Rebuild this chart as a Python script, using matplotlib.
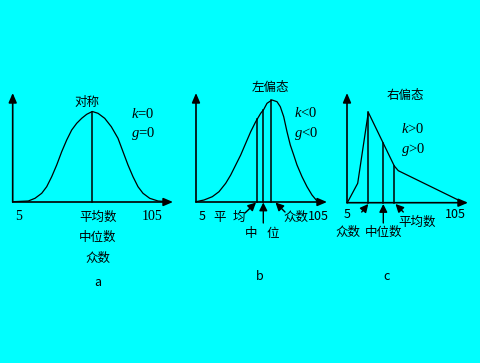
import matplotlib.pyplot as plt
import matplotlib as mpl

plt.rcParams['font.family'] = ['Noto Sans CJK SC', 'DejaVu Sans']
plt.rcParams['mathtext.fontset'] = 'custom'
plt.rcParams['mathtext.it'] = 'Liberation Serif:italic'
plt.rcParams['mathtext.rm'] = 'Liberation Serif'

BG = '#00ffff'

# positions (pixels, y down)
# panel a : symmetric curve
a_origin = (12.7, 202.0)
a_xend, a_ytop = 173, 93
a_curve_x = [12.7, 28.3, 35.0, 41.7, 46.7, 51.7, 56.7, 61.7, 66.7, 71.7, 76.7, 81.7, 86.7, 92.3,
             98.0, 104.7, 111.3, 118.0, 123.0, 128.0, 133.0, 138.0, 143.0, 149.7, 158.0, 168.0]
a_curve_y = [201.7, 201.0, 198.3, 193.3, 186.7, 176.7, 165.0, 151.7, 140.0, 130.0, 123.3, 118.3, 114.3, 111.5,
             113.3, 118.3, 126.7, 138.3, 151.7, 165.0, 176.7, 186.7, 193.3, 198.3, 201.0, 201.7]
a_lines_x = [92.3]
a_lines_top = [111.5]

# panel b : left skewed
b_origin = (196.0, 202.0)
b_xend, b_ytop = 327, 93
b_curve_x = [196.0, 204.0, 212.3, 219.0, 225.7, 230.7, 235.7, 240.7, 245.7, 250.7, 255.7, 260.7,
             263.7, 267.0, 272.0, 277.0, 280.3, 283.7, 287.0, 290.3, 293.7, 297.0, 302.0, 307.0,
             312.0, 317.0, 321.0]
b_curve_y = [201.7, 200.0, 196.7, 191.7, 183.3, 175.0, 165.0, 155.0, 143.3, 131.7, 121.7, 113.3,
             109.5, 103.3, 100.0, 101.7, 106.7, 116.7, 131.7, 145.0, 155.0, 165.0, 176.7, 186.7,
             195.0, 201.0, 202.0]
b_lines_x = [257.5, 263.3, 271.0]
b_lines_top = [118.5, 109.8, 100.2]

# panel c : right skewed (polyline)
c_origin = (347.0, 202.7)
c_xend, c_ytop = 468, 93
c_curve_x = [347.3, 357.7, 368.3, 383.3, 394.3, 398.3, 461.7]
c_curve_y = [202.7, 183.3, 112.3, 143.3, 166.0, 170.7, 201.7]
c_lines_x = [368.3, 383.3, 394.3]
c_lines_top = [112.3, 143.3, 166.0]

# pointer arrows (tail -> head)
b_arrows = [((245, 213), (256, 202.5)), ((263.3, 223), (263.3, 202.5)), ((285, 212), (275.5, 202.5))]
c_arrows = [((361.7, 212), (368.3, 204)), ((383.3, 223), (383.3, 204)), ((403.3, 212), (395.5, 204))]

fig = plt.figure(figsize=(4.81, 3.63), dpi=100, facecolor=BG)
ax = fig.add_axes([0, 0, 1, 1])
ax.set_xlim(0, 481)
ax.set_ylim(363, 0)
ax.set_facecolor(BG)
ax.axis('off')

lw = 0.9
head = dict(arrowstyle='-|>,head_length=0.7,head_width=0.3', color='black', lw=1.2,
            shrinkA=0, shrinkB=0, mutation_scale=8)


def panel(origin, xend, ytop, cx, cy, lx, ltop):
    ax.annotate('', xy=(xend, origin[1]), xytext=origin, arrowprops=head)
    ax.annotate('', xy=(origin[0], ytop), xytext=origin, arrowprops=head)
    ax.plot(cx, cy, color='black', lw=lw)
    for x, t in zip(lx, ltop):
        ax.plot([x, x], [t, origin[1]], color='black', lw=1.1)


panel(a_origin, a_xend, a_ytop, a_curve_x, a_curve_y, a_lines_x, a_lines_top)
panel(b_origin, b_xend, b_ytop, b_curve_x, b_curve_y, b_lines_x, b_lines_top)
panel(c_origin, c_xend, c_ytop, c_curve_x, c_curve_y, c_lines_x, c_lines_top)

small = dict(arrowstyle='-|>,head_length=0.6,head_width=0.3', color='black', lw=1.0,
             shrinkA=0, shrinkB=0, mutation_scale=8)
for tail, tip in b_arrows + c_arrows:
    ax.annotate('', xy=tip, xytext=tail, arrowprops=small)

fs = 9
kfs = 10.5
serif = ['Liberation Serif', 'DejaVu Serif']
def txt(x, y, s, **kw):
    kw.setdefault('fontsize', fs)
    ax.text(x, y, s, ha='center', va='center', color='black', **kw)

# panel a texts
txt(87, 102, '对称')
txt(143, 114, '$k$=0', family=serif, fontsize=kfs)
txt(143, 134, '$g$=0', family=serif, fontsize=kfs)
txt(19, 217, '5', family=serif, fontsize=10)
txt(152, 217, '105', family=serif, fontsize=10)
txt(98, 217, '平均数')
txt(98, 237, '中位数')
txt(98, 258, '众数')
txt(98, 282, 'a')

# panel b texts
txt(270, 87, '左偏态')
txt(306, 113, '$k$<0', family=serif, fontsize=kfs)
txt(306, 133, '$g$<0', family=serif, fontsize=kfs)
txt(202, 217, '5')
txt(220, 217, '平')
txt(239, 217, '均')
txt(296, 217, '众数')
txt(318, 217, '105')
txt(251.5, 233, '中')
txt(272.5, 233, '位')
txt(260, 276, 'b')

# panel c texts
txt(405, 96, '右偏态')
txt(413, 129, '$k$>0', family=serif, fontsize=kfs)
txt(413, 150, '$g$>0', family=serif, fontsize=kfs)
txt(347, 215, '5')
txt(455, 215, '105')
txt(348, 232, '众数')
txt(383.5, 232, '中位数')
txt(417.5, 222, '平均数')
txt(387, 277, 'c')

fig.savefig('out.png', dpi=100, facecolor=BG)
